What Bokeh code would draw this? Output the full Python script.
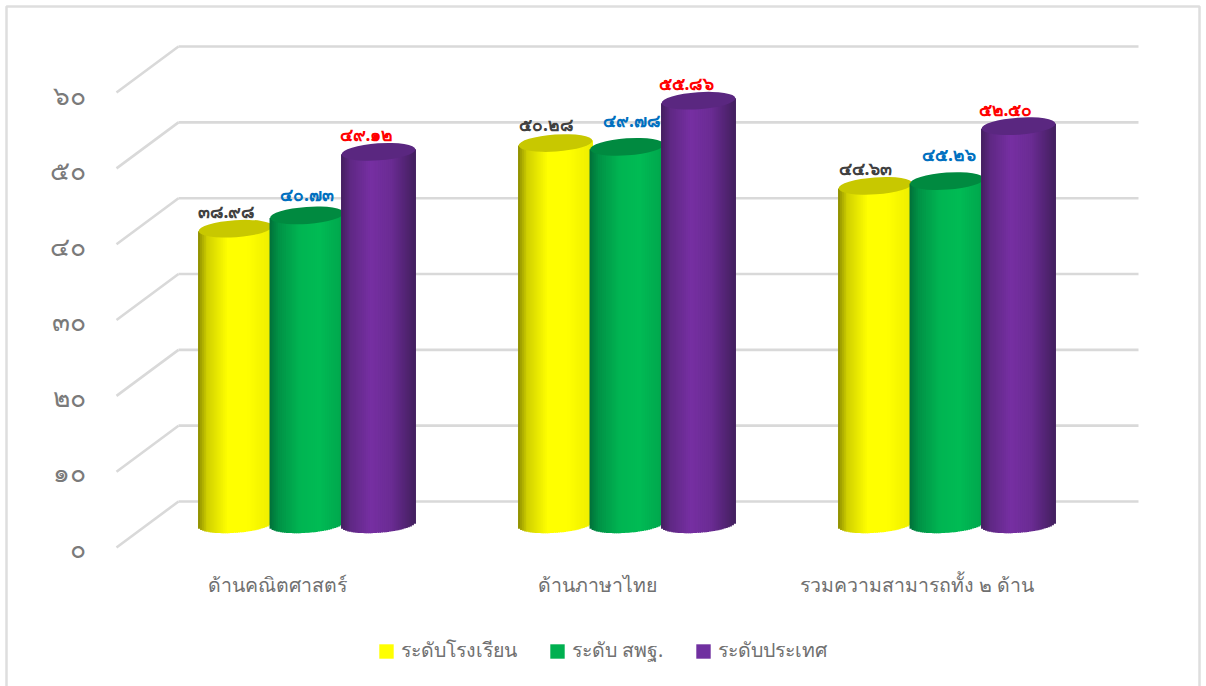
from bokeh.plotting import figure
from bokeh.models import Range1d, LinearAxis, FixedTicker, Legend, LegendItem, ColumnDataSource
from bokeh.core.properties import value
from bokeh.embed import file_html
from bokeh.resources import INLINE
import numpy as np

categories = ["ด้านคณิตศาสตร์", "ด้านภาษาไทย", "รวมความสามารถทั้ง ๒ ด้าน"]
series_names = ["ระดับโรงเรียน", "ระดับ สพฐ.", "ระดับประเทศ"]
school = [38.98, 50.28, 44.63]
obec = [40.73, 49.78, 45.26]
national = [49.12, 55.86, 52.50]
school_labels = ["๓๘.๙๘", "๕๐.๒๘", "๔๔.๖๓"]
obec_labels = ["๔๐.๗๓", "๔๙.๗๘", "๔๕.๒๖"]
national_labels = ["๔๙.๑๒", "๕๕.๘๖", "๕๒.๕๐"]
y_ticks = [0, 10, 20, 30, 40, 50, 60]
y_tick_labels = ["๐", "๑๐", "๒๐", "๓๐", "๔๐", "๕๐", "๖๐"]

FONT = "Noto Sans"
OX, OY = 0, 0            # page position of the canvas
W, H = 1204, 686
GROUP_PX = 320.0
X0_PX = 306.5            # page x of first group's centre
UNIT_PX = 7.583          # pixels per value unit
Y0_PX = 523.8            # page y of bar base


def xd(px):
    return (px - X0_PX) / GROUP_PX


def yd(py):
    return (Y0_PX - py) / UNIT_PX


p = figure(width=W, height=H, output_backend="svg", toolbar_location=None,
           x_range=Range1d(xd(OX), xd(OX + W)), y_range=Range1d(yd(OY + H), yd(OY)),
           min_border=0, margin=(0, 0, 0, 0), outline_line_color=None, x_axis_type=None, y_axis_type=None)
p.xgrid.visible = False
p.ygrid.visible = False
p.background_fill_color = "white"
p.border_fill_color = "white"

# chart border
p.quad(left=[xd(6)], right=[xd(1199)], top=[yd(6)], bottom=[yd(720)], fill_color=None,
       line_color="#DEDEDE", line_width=2.5)

# wall grid
GRID = "#D9D9D9"
wall = np.array(y_ticks, float) + yd(501)
front = np.array(y_ticks, float) + yd(547)
n = len(y_ticks)
p.segment(x0=[xd(178)] * n, x1=[xd(1138)] * n, y0=wall, y1=wall, line_color=GRID, line_width=2.6)
p.segment(x0=[xd(116)] * n, x1=[xd(178)] * n, y0=front, y1=wall, line_color=GRID, line_width=2.6)

# bars
BAR_W = 74 / GROUP_PX
OFFS = [-71.5 / GROUP_PX, 0, 71.5 / GROUP_PX]
ELL_H = 17 / UNIT_PX
TILT = 0.07 * (BAR_W * GROUP_PX / 2) / UNIT_PX
styles = [
    (school, "#FFFF00", "#8C8C00", "#FFFF00", "#C8C800", [0.0, 0.6, 1, 1, 0.85]),
    (obec, "#00B050", "#00703A", "#00BC55", "#008A40", [0.0, 0.45, 0.9, 1, 0.7]),
    (national, "#7030A0", "#43205F", "#7B31A9", "#5A2780", [0.0, 0.5, 0.92, 0.72, 0.0]),
]
STOPS = [-1, -0.75, -0.2, 0.35, 1]
N = 36


def rgb(h):
    return np.array([int(h[i:i + 2], 16) for i in (1, 3, 5)], float)


legend_items = []
for (vals, flat, dark, bright, topc, w), off, name in zip(styles, OFFS, series_names):
    xc = np.arange(3) + off
    r = p.vbar(x=xc, top=vals, bottom=0, width=BAR_W * 0.9, fill_color=flat, line_color=None)
    legend_items.append(LegendItem(label=name, renderers=[r]))
    edges = np.linspace(-1, 1, N + 1)
    ts = (edges[:-1] + edges[1:]) / 2
    L, R, T, B, C = [], [], [], [], []
    for x, v in zip(xc, vals):
        for i, t in enumerate(ts):
            a = np.interp(t, STOPS, w)
            col = rgb(dark) * (1 - a) + rgb(bright) * a
            L.append(x + edges[i] * BAR_W / 2 - 0.0015)
            R.append(x + edges[i + 1] * BAR_W / 2 + 0.0015)
            T.append(v + t * TILT)
            B.append(t * TILT - ELL_H / 2 * np.sqrt(max(1 - t * t, 0)))
            C.append("#%02X%02X%02X" % tuple(int(c) for c in col))
    p.quad(left=L, right=R, top=T, bottom=B, fill_color=C, line_color=None)
    p.ellipse(x=xc, y=vals, width=BAR_W, height=ELL_H, angle=0.07, fill_color=topc, line_color=None)

# data labels
label_dx = [[-9, -9, -10], [0, 5, 2], [-12, -12, -13]]
label_dy = [[18, 19, 18], [21, 27, 27], [18, 18, 17]]
label_sets = [school_labels, obec_labels, national_labels]
label_colors = ["#404040", "#0070C0", "#FF0000"]
for (vals, *_), off, labs, dx, dy, col in zip(styles, OFFS, label_sets, label_dx, label_dy, label_colors):
    src = ColumnDataSource(dict(x=np.arange(3) + off, y=vals, t=labs, dx=dx, dy=[-d for d in dy]))
    p.text(x="x", y="y", text="t", x_offset="dx", y_offset="dy", source=src, text_align="center",
           text_baseline="middle", text_color=col, text_font=value(FONT), text_font_size="17.5px",
           text_font_style="bold")

# axes drawn through their own ranges
p.extra_y_ranges = {"front": Range1d((547 - (OY + H)) / 7.55, (547 - OY) / 7.55)}
p.extra_x_ranges = {"cats": Range1d((OX - 276.5) / GROUP_PX, (OX + W - 276.5) / GROUP_PX)}

ya = LinearAxis(y_range_name="front", ticker=FixedTicker(ticks=y_ticks),
                major_label_overrides=dict(zip(y_ticks, y_tick_labels)), fixed_location=xd(100))
ya.axis_line_color = None
ya.major_tick_line_color = None
ya.minor_tick_line_color = None
ya.major_label_standoff = 9
ya.major_label_text_font = FONT
ya.major_label_text_font_size = "26.5px"
ya.major_label_text_color = "#7A7A7A"
p.add_layout(ya, "left")

xa = LinearAxis(x_range_name="cats", ticker=FixedTicker(ticks=[0, 1, 2]),
                major_label_overrides=dict(enumerate(categories)), fixed_location=yd(562))
xa.axis_line_color = None
xa.major_tick_line_color = None
xa.minor_tick_line_color = None
xa.major_label_standoff = 2
xa.major_label_text_font = FONT
xa.major_label_text_font_size = "19.5px"
xa.major_label_text_color = "#707070"
p.add_layout(xa, "below")

legend = Legend(items=legend_items, orientation="horizontal", location=(377 - OX, 20),
                margin=0, padding=0, spacing=31, label_standoff=6, glyph_width=18, glyph_height=18,
                background_fill_alpha=0, border_line_color=None,
                label_text_font=FONT, label_text_font_size="19.5px", label_text_color="#707070")
p.add_layout(legend, "center")

open("out.html", "w").write(file_html(p, INLINE))
